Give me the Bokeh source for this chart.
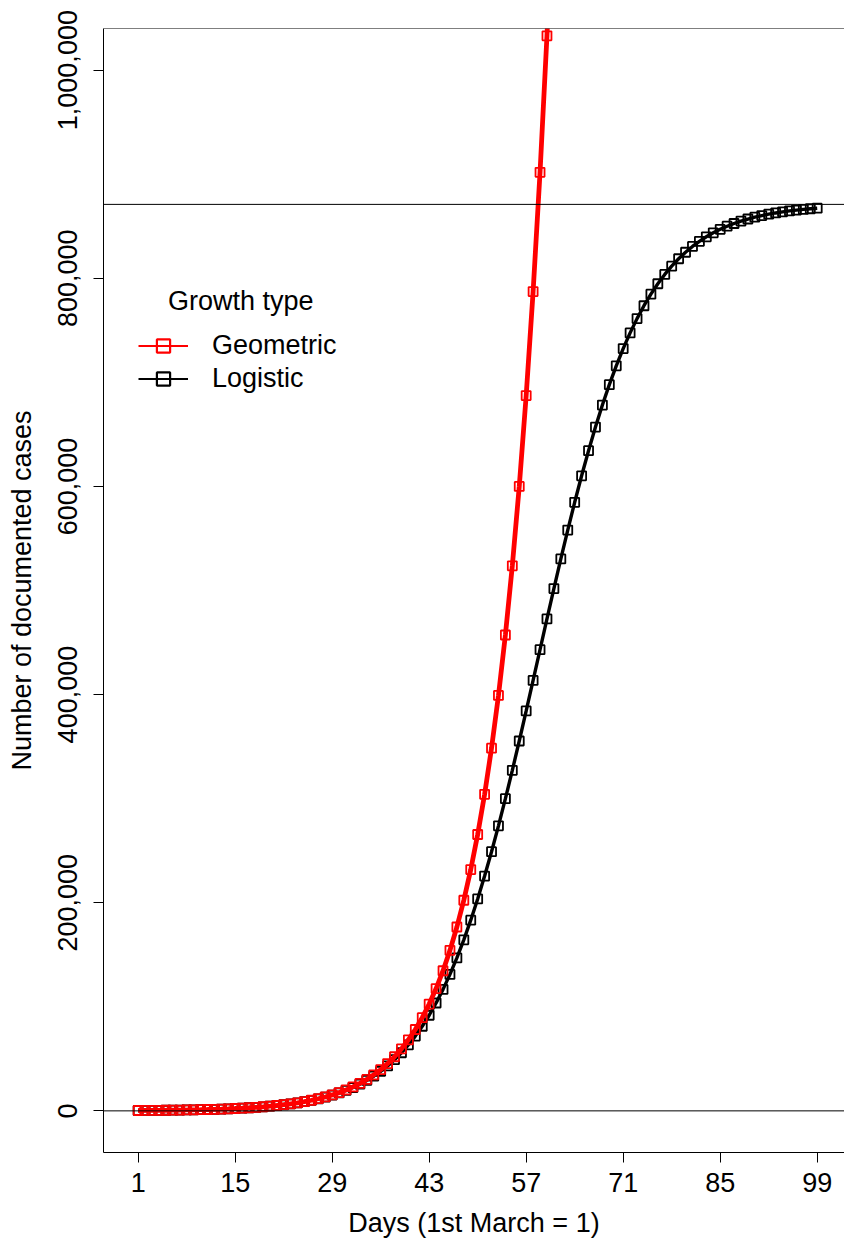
from bokeh.plotting import figure
from bokeh.models import Range1d, FixedTicker, NumeralTickFormatter, Span, Legend, LegendItem
from bokeh.embed import file_html
from bokeh.resources import INLINE

# ---------------- data ----------------
days = list(range(1, 100))
geometric_days = list(range(1, 62))
geometric = [
    342, 391, 448, 513, 588, 674, 772, 884, 1012, 1160,
    1329, 1522, 1743, 1997, 2287, 2620, 3001, 3438, 3938, 4511,
    5168, 5920, 6781, 7767, 8897, 10192, 11675, 13374, 15320, 17549,
    20102, 23027, 26377, 30215, 34611, 39647, 45416, 52024, 59594, 68265,
    78197, 89575, 102608, 117538, 134640, 154230, 176670, 202376, 231822, 265553,
    304190, 348450, 399149, 457225, 523751, 599957, 687251, 787246, 901790, 1033000,
    1183302,
]
logistic = [
    342, 392, 449, 514, 589, 675, 773, 885, 1014, 1161,
    1329, 1522, 1743, 1996, 2286, 2618, 2997, 3431, 3928, 4497,
    5147, 5890, 6741, 7712, 8823, 10092, 11540, 13193, 15079, 17229,
    19679, 22467, 25639, 29243, 33334, 37971, 43221, 49153, 55844, 63376,
    71834, 81308, 91888, 103662, 116720, 131142, 147000, 164347, 183224, 203644,
    225594, 249026, 273861, 299977, 327219, 355394, 384283, 413635, 443187, 472671,
    501812, 530360, 558076, 584757, 610222, 634340, 657011, 678169, 697788, 715865,
    732431, 747537, 761237, 773617, 784762, 794757, 803691, 811657, 818741, 825024,
    830592, 835520, 839861, 843690, 847064, 850031, 852640, 854926, 856935, 858695,
    860239, 861590, 862774, 863810, 864716, 865509, 866203, 866809, 867339,
]
carrying_capacity = 871000
baseline_value = 0
x_ticks = [1, 15, 29, 43, 57, 71, 85, 99]
y_ticks = [0, 200000, 400000, 600000, 800000, 1000000]
series_names = ["Geometric", "Logistic"]
series_colors = ["#FF0000", "#000000"]
legend_title = "Growth type"
x_title = "Days (1st March = 1)"
y_title = "Number of documented cases"

FONT = "Liberation Sans"
FS = "27px"

p = figure(
    width=844, height=1243,
    x_range=Range1d(-4, 102.94), y_range=Range1d(-40000, 1040000),
    output_backend="svg", toolbar_location=None,
    min_border_left=103, min_border_right=0, min_border_top=28, min_border_bottom=91,
)
p.outline_line_color = None
p.grid.visible = False
p.background_fill_color = "white"
p.border_fill_color = "white"

for ax in (p.xaxis[0], p.yaxis[0]):
    ax.axis_line_color = "black"
    ax.axis_line_width = 1
    ax.major_tick_line_color = "black"
    ax.major_tick_line_width = 1
    ax.major_tick_in = 0
    ax.major_tick_out = 10
    ax.minor_tick_line_color = None
    ax.major_label_text_font = FONT
    ax.major_label_text_font_size = FS
    ax.major_label_text_color = "black"
    ax.axis_label_text_font = FONT
    ax.axis_label_text_font_size = FS
    ax.axis_label_text_font_style = "normal"
    ax.axis_label_text_color = "black"

p.xaxis.ticker = FixedTicker(ticks=x_ticks)
p.yaxis.ticker = FixedTicker(ticks=y_ticks)
p.yaxis.formatter = NumeralTickFormatter(format="0,0")
p.yaxis.major_label_orientation = "vertical"
p.xaxis.axis_label = x_title
p.yaxis.axis_label = y_title
p.xaxis.major_label_standoff = 10
p.xaxis.axis_label_standoff = 13
p.yaxis.major_label_standoff = 16
p.yaxis.axis_label_standoff = 19

# reference lines
p.add_layout(Span(location=baseline_value, dimension="width", line_color="black", line_width=1))
p.add_layout(Span(location=carrying_capacity, dimension="width", line_color="black", line_width=1))
p.add_layout(Span(location=p.y_range.end, dimension="width", line_color="black", line_width=1))

# logistic series
p.scatter(days, logistic, marker="square", size=9, line_color=series_colors[1],
          fill_color=None, line_width=1.8)
p.line(days, logistic, line_color=series_colors[1], line_width=3.4)
# geometric series
p.scatter(geometric_days, geometric, marker="square", size=9, line_color=series_colors[0],
          fill_color=None, line_width=1.8)
p.line(geometric_days, geometric, line_color=series_colors[0], line_width=4.8)

# legend-only renderers (no visible data)
nan = float("nan")
leg = []
for c in series_colors:
    ln = p.line([nan, nan], [nan, nan], line_color=c, line_width=2)
    mk = p.scatter([nan], [nan], marker="square", size=10, line_color=c, fill_color=None, line_width=2.2)
    leg.append([ln, mk])

legend = Legend(
    items=[LegendItem(label=n, renderers=r) for n, r in zip(series_names, leg)],
    title="\u00a0\u00a0\u00a0\u00a0" + legend_title,
    location=(35, 757),
    glyph_width=50, glyph_height=33, label_height=33, label_standoff=24,
    spacing=0, padding=0, margin=0, title_standoff=12,
    border_line_color=None, background_fill_alpha=0,
    label_text_font=FONT, label_text_font_size=FS, label_text_color="black",
    title_text_font=FONT, title_text_font_size=FS, title_text_font_style="normal",
    title_text_color="black",
)
p.add_layout(legend)

open("out.html", "w").write(file_html(p, INLINE))
